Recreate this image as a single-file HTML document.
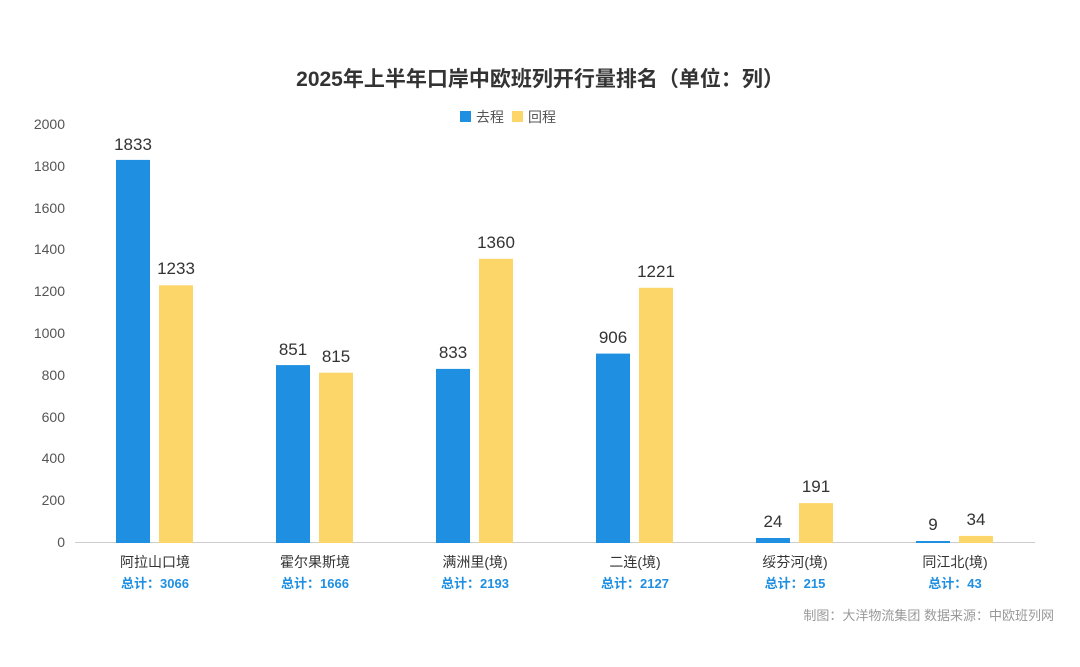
<!DOCTYPE html>
<html><head><meta charset="utf-8"><style>
body{margin:0;background:#fff;}
svg{display:block;font-family:"Liberation Sans","Noto Sans CJK SC",sans-serif;}
</style></head><body>
<svg width="1080" height="667" viewBox="0 0 1080 667" xmlns="http://www.w3.org/2000/svg">
<rect width="1080" height="667" fill="#fff"/>
<text x="540" y="86" text-anchor="middle" font-size="21" font-weight="bold" fill="#333">2025年上半年口岸中欧班列开行量排名（单位：列）</text>
<rect x="460" y="111" width="11" height="11" fill="#1e8fe1"/>
<text x="476" y="122" font-size="14" fill="#555">去程</text>
<rect x="512" y="111" width="11" height="11" fill="#fcd668"/>
<text x="528" y="122" font-size="14" fill="#555">回程</text>
<g font-size="14" fill="#555" text-anchor="end">
<text x="65" y="129">2000</text><text x="65" y="171">1800</text><text x="65" y="213">1600</text>
<text x="65" y="254">1400</text><text x="65" y="296">1200</text><text x="65" y="338">1000</text>
<text x="65" y="380">800</text><text x="65" y="422">600</text><text x="65" y="463">400</text>
<text x="65" y="505">200</text><text x="65" y="547">0</text>
</g>
<line x1="75" y1="542.5" x2="1035" y2="542.5" stroke="#ccc" stroke-width="1"/>
<g fill="#1e8fe1">
<rect x="116" y="159.9" width="34" height="383.1"/>
<rect x="276" y="365.1" width="34" height="177.9"/>
<rect x="436" y="368.9" width="34" height="174.1"/>
<rect x="596" y="353.6" width="34" height="189.4"/>
<rect x="756" y="538" width="34" height="5"/>
<rect x="916" y="541" width="34" height="2"/>
</g>
<g fill="#fcd668">
<rect x="159" y="285.3" width="34" height="257.7"/>
<rect x="319" y="372.7" width="34" height="170.3"/>
<rect x="479" y="258.8" width="34" height="284.2"/>
<rect x="639" y="287.8" width="34" height="255.2"/>
<rect x="799" y="503.1" width="34" height="39.9"/>
<rect x="959" y="535.9" width="34" height="7.1"/>
</g>
<g font-size="17" fill="#333" text-anchor="middle">
<text x="133" y="150">1833</text><text x="176" y="274">1233</text>
<text x="293" y="355">851</text><text x="336" y="362">815</text>
<text x="453" y="358">833</text><text x="496" y="248">1360</text>
<text x="613" y="343">906</text><text x="656" y="277">1221</text>
<text x="773" y="527">24</text><text x="816" y="492">191</text>
<text x="933" y="530">9</text><text x="976" y="525">34</text>
</g>
<g font-size="14" fill="#333" text-anchor="middle">
<text x="155" y="567">阿拉山口境</text><text x="315" y="567">霍尔果斯境</text>
<text x="475" y="567">满洲里(境)</text><text x="635" y="567">二连(境)</text>
<text x="795" y="567">绥芬河(境)</text><text x="955" y="567">同江北(境)</text>
</g>
<g font-size="13" font-weight="bold" fill="#1e8fe1" text-anchor="middle">
<text x="155" y="588">总计：3066</text><text x="315" y="588">总计：1666</text>
<text x="475" y="588">总计：2193</text><text x="635" y="588">总计：2127</text>
<text x="795" y="588">总计：215</text><text x="955" y="588">总计：43</text>
</g>
<text x="1054" y="620" text-anchor="end" font-size="13" fill="#999">制图：大洋物流集团   数据来源：中欧班列网</text>
</svg>
</body></html>
